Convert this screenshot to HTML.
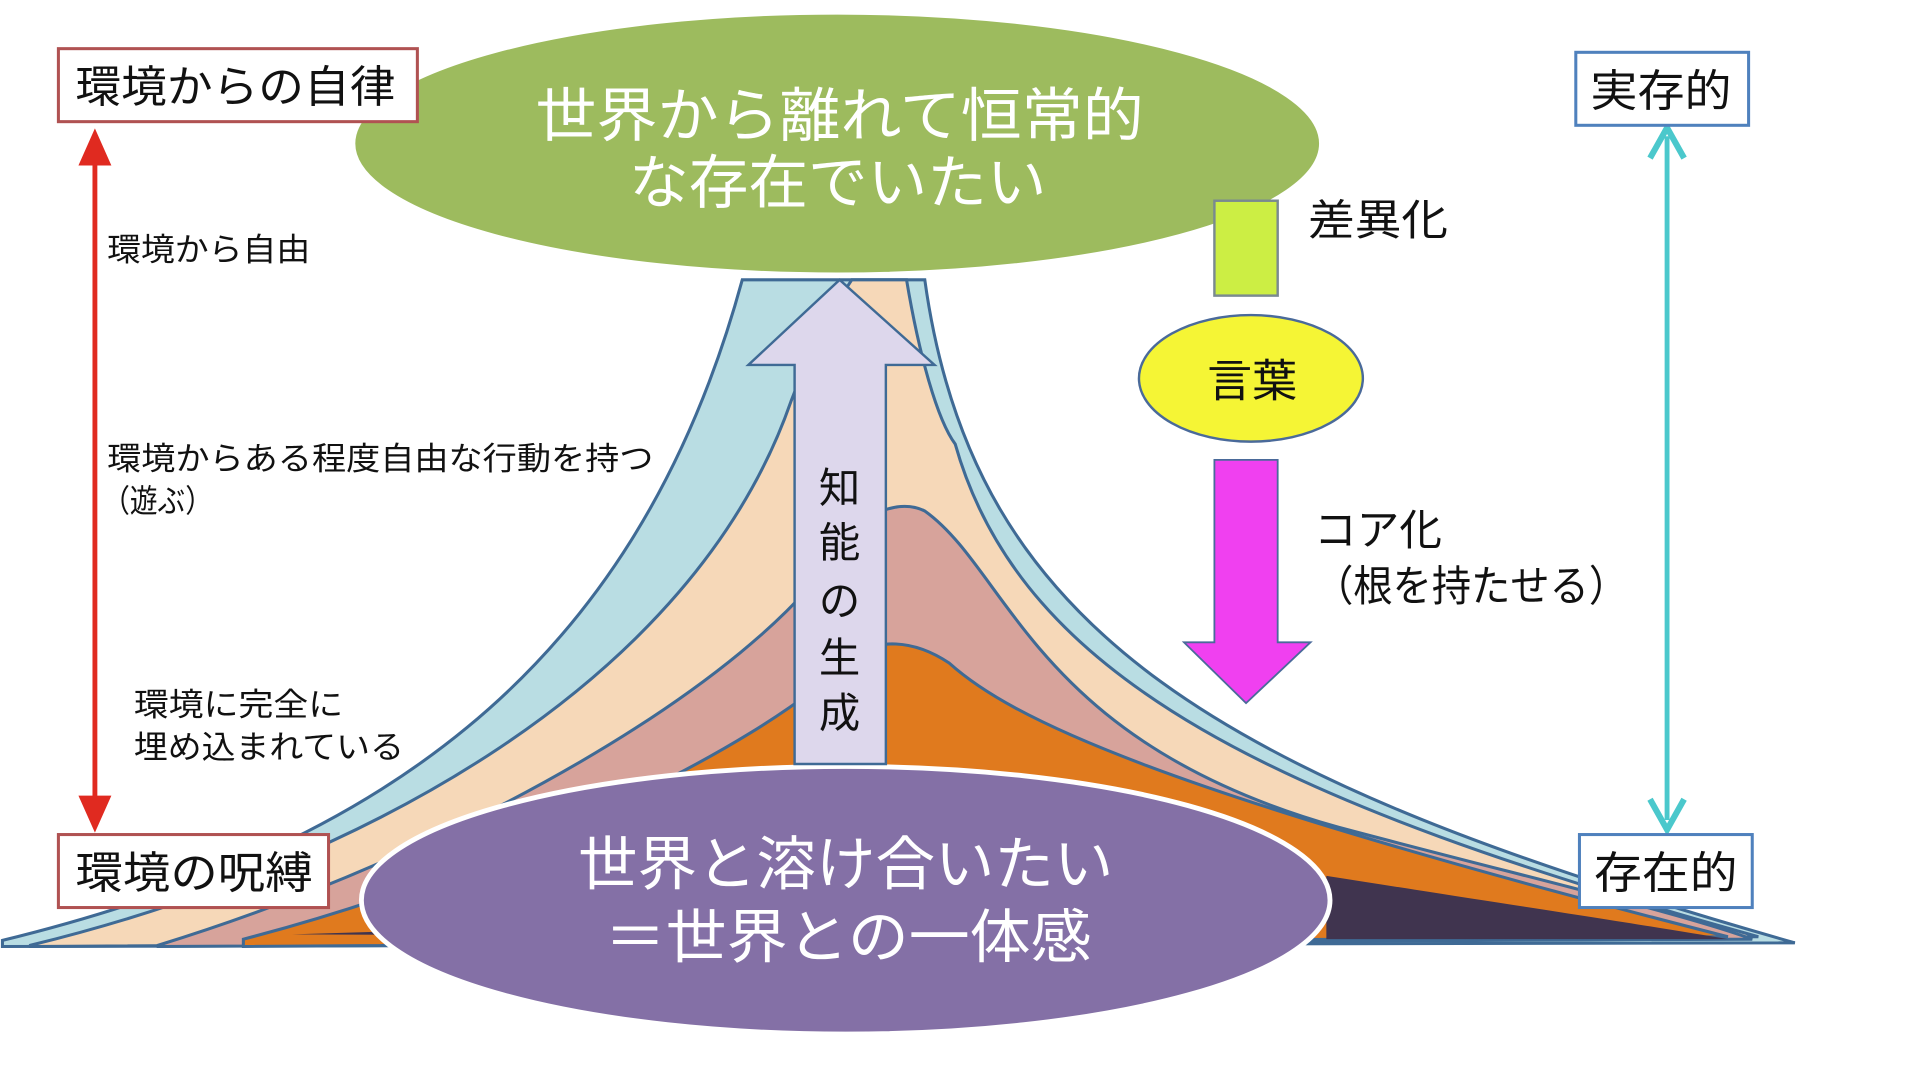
<!DOCTYPE html>
<html><head><meta charset="utf-8"><style>
html,body{margin:0;padding:0;background:#fff;}
svg{display:block;}
text{font-family:"Liberation Sans","Noto Sans CJK JP",sans-serif;}
</style></head><body>
<svg width="1908" height="1073" viewBox="0 0 1568 882" preserveAspectRatio="none" xmlns="http://www.w3.org/2000/svg">
<rect width="1568" height="882" fill="#fff"/>
<!-- mountain layers -->
<path d="M2,773 C300,700 520,560 610,230 L760,230 C800,520 1000,640 1475,775 L2,778 Z" fill="#b9dde3" stroke="#3f6a95" stroke-width="2.5"/>
<path d="M25,777 C300,710 570,560 650,330 C665,290 690,245 700,230 L745,230 C755,290 770,345 785,365 C840,560 1050,660 1445,770 L25,778 Z" fill="#f6d8b8" stroke="#3f6a95" stroke-width="2.5"/>
<path d="M130,777 C380,700 620,560 690,450 C710,420 740,410 760,420 C830,470 850,610 1100,680 C1250,720 1380,750 1440,772 L130,778 Z" fill="#d7a39b" stroke="#3f6a95" stroke-width="2.5"/>
<path d="M200,772 C400,720 620,620 700,540 C720,525 750,525 780,545 C830,590 950,650 1420,770 L200,778 Z" fill="#e07a1e" stroke="#3f6a95" stroke-width="2.5"/>
<path d="M1090,720 C1250,745 1350,760 1420,772 L1090,772 Z" fill="#40344f"/>
<path d="M240,768 L1000,745 L1000,772 Z" fill="#40344f"/>
<!-- purple ellipse -->
<ellipse cx="695" cy="740" rx="398" ry="110" fill="#8470a6" stroke="#fff" stroke-width="4"/>
<text x="475" y="727" font-size="48" fill="#fff" textLength="440" lengthAdjust="spacingAndGlyphs">世界と溶け合いたい</text>
<text x="497" y="787" font-size="48" fill="#fff" textLength="400" lengthAdjust="spacingAndGlyphs">＝世界との一体感</text>
<!-- up arrow -->
<path d="M653,628 L653,300 L615,300 L690,230 L768,300 L728,300 L728,628 Z" fill="#ddd7ec" stroke="#3f6a95" stroke-width="2"/>
<g font-size="34" fill="#111" text-anchor="middle">
<text x="690" y="413">知</text><text x="690" y="458">能</text><text x="690" y="506">の</text><text x="690" y="553">生</text><text x="690" y="598">成</text>
</g>
<!-- green ellipse -->
<ellipse cx="688" cy="118" rx="398" ry="108" fill="#9dbb5e" stroke="#fff" stroke-width="4"/>
<text x="440" y="112" font-size="48" fill="#fff" textLength="500" lengthAdjust="spacingAndGlyphs">世界から離れて恒常的</text>
<text x="517" y="167" font-size="48" fill="#fff" textLength="343" lengthAdjust="spacingAndGlyphs">な存在でいたい</text>
<!-- right side -->
<rect x="998" y="165" width="52" height="78" fill="#ccee44" stroke="#7a8a90" stroke-width="2"/>
<ellipse cx="1028" cy="311" rx="92" ry="52" fill="#f5f535" stroke="#4a6a9a" stroke-width="2"/>
<text x="992" y="326" font-size="37" fill="#111" textLength="74" lengthAdjust="spacingAndGlyphs">言葉</text>
<path d="M998,378 L1050,378 L1050,528 L1077,528 L1024,578 L973,528 L998,528 Z" fill="#f040f0" stroke="#4a6a9a" stroke-width="1.5"/>
<text x="1075" y="193" font-size="35" fill="#111" textLength="115" lengthAdjust="spacingAndGlyphs">差異化</text>
<text x="1080" y="448" font-size="35" fill="#111" textLength="105" lengthAdjust="spacingAndGlyphs">コア化</text>
<text x="1080" y="494" font-size="35" fill="#111" textLength="258" lengthAdjust="spacingAndGlyphs">（根を持たせる）</text>
<!-- left arrow -->
<line x1="78" y1="125" x2="78" y2="665" stroke="#e02a20" stroke-width="4"/>
<path d="M66,135 L78,108 L90,135 Z M66,655 L78,682 L90,655 Z" fill="#e02a20" stroke="#e02a20" stroke-width="2"/>
<!-- right arrow -->
<line x1="1370" y1="112" x2="1370" y2="674" stroke="#4bc8cc" stroke-width="4"/>
<path d="M1356,130 L1370,105 L1384,130 M1356,657 L1370,682 L1384,657" fill="none" stroke="#4bc8cc" stroke-width="5"/>
<!-- boxes -->
<rect x="48" y="40" width="295" height="60" fill="#fff" stroke="#b05252" stroke-width="2.5"/>
<text x="62" y="84" font-size="36" fill="#111" textLength="263" lengthAdjust="spacingAndGlyphs">環境からの自律</text>
<rect x="1295" y="43" width="142" height="60" fill="#fff" stroke="#4f81bd" stroke-width="2.5"/>
<text x="1307" y="87" font-size="36" fill="#111" textLength="116" lengthAdjust="spacingAndGlyphs">実存的</text>
<rect x="48" y="686" width="222" height="60" fill="#fff" stroke="#b05252" stroke-width="2.5"/>
<text x="62" y="730" font-size="36" fill="#111" textLength="195" lengthAdjust="spacingAndGlyphs">環境の呪縛</text>
<rect x="1298" y="686" width="142" height="60" fill="#fff" stroke="#4f81bd" stroke-width="2.5"/>
<text x="1310" y="730" font-size="36" fill="#111" textLength="118" lengthAdjust="spacingAndGlyphs">存在的</text>
<!-- left labels -->
<g font-size="26" fill="#111">
<text x="88" y="214" textLength="167" lengthAdjust="spacingAndGlyphs">環境から自由</text>
<text x="88" y="386" textLength="449" lengthAdjust="spacingAndGlyphs">環境からある程度自由な行動を持つ</text>
<text x="84" y="421" textLength="91" lengthAdjust="spacingAndGlyphs">（遊ぶ）</text>
<text x="110" y="588" textLength="172" lengthAdjust="spacingAndGlyphs">環境に完全に</text>
<text x="110" y="623" textLength="222" lengthAdjust="spacingAndGlyphs">埋め込まれている</text>
</g>
</svg>
</body></html>
